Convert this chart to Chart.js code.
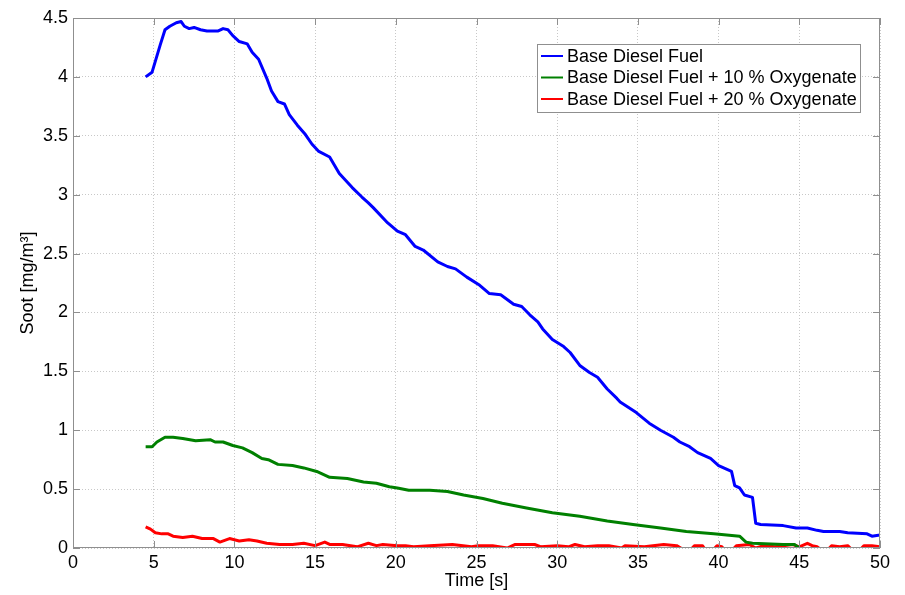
<!DOCTYPE html>
<html>
<head>
<meta charset="utf-8">
<title>Soot</title>
<script src="https://cdn.jsdelivr.net/npm/chart.js@4/dist/chart.umd.min.js"></script>
<style>
  html, body { margin: 0; padding: 0; background: #fff; }
  #chart { display: block; }
</style>
</head>
<body>
<canvas id="chart" width="905" height="595"></canvas>
<script>
// Soot concentration over time for three fuel blends
const seriesLabels = [
    'Base Diesel Fuel',
    'Base Diesel Fuel + 10 % Oxygenate',
    'Base Diesel Fuel + 20 % Oxygenate'
];
const seriesColors = ['#0000ff', '#008000', '#ff0000'];

const baseTime = [4.5, 4.9, 5.4, 5.7, 6.0, 6.4, 6.7, 6.9, 7.2, 7.5, 7.9, 8.3, 9.0, 9.3, 9.6, 9.9,
    10.3, 10.8, 11.1, 11.5, 12.0, 12.3, 12.7, 13.1, 13.4, 13.9, 14.4, 14.8, 15.2, 15.9, 16.5,
    17.3, 17.9, 18.3, 18.6, 19.5, 20.1, 20.6, 21.2, 21.7, 22.6, 23.2, 23.7, 24.4, 25.2, 25.8,
    26.5, 27.3, 27.8, 28.3, 28.8, 29.1, 29.7, 30.4, 30.8, 31.4, 32.0, 32.5, 33.1, 33.7, 33.9,
    34.9, 35.7, 36.4, 37.2, 37.6, 38.2, 38.7, 39.5, 40.0, 40.8, 41.0, 41.3, 41.6, 42.1, 42.3,
    42.6, 44.0, 44.8, 45.5, 46.1, 46.5, 47.5, 48.0, 49.2, 49.5, 50.0];
const baseSoot = [4.00, 4.04, 4.27, 4.40, 4.43, 4.46, 4.47, 4.43, 4.41, 4.42, 4.40, 4.39, 4.39, 4.41, 4.40, 4.35,
    4.30, 4.28, 4.21, 4.15, 3.99, 3.88, 3.79, 3.77, 3.68, 3.59, 3.51, 3.43, 3.37, 3.32, 3.18,
    3.06, 2.98, 2.93, 2.89, 2.76, 2.69, 2.66, 2.56, 2.53, 2.43, 2.39, 2.37, 2.30, 2.23, 2.16,
    2.15, 2.07, 2.05, 1.98, 1.92, 1.86, 1.77, 1.71, 1.66, 1.55, 1.49, 1.45, 1.35, 1.27, 1.24,
    1.15, 1.06, 1.00, 0.94, 0.90, 0.86, 0.81, 0.76, 0.70, 0.65, 0.53, 0.51, 0.45, 0.43, 0.21,
    0.20, 0.19, 0.17, 0.17, 0.15, 0.14, 0.14, 0.13, 0.12, 0.10, 0.11];

const oxy10Time = [4.5, 4.9, 5.2, 5.7, 6.2, 6.8, 7.6, 8.5, 8.8, 9.3, 9.9, 10.5, 11.1, 11.7, 12.1, 12.7,
    13.6, 14.3, 15.1, 15.9, 17.0, 18.0, 18.8, 19.6, 20.1, 20.8, 21.5, 22.1, 23.2, 24.2, 25.4,
    26.6, 28.1, 29.7, 31.4, 33.1, 34.7, 36.4, 38.0, 39.7, 41.3, 41.7, 42.1, 44.0, 44.7, 45.0];
const oxy10Soot = [0.86, 0.86, 0.90, 0.94, 0.94, 0.93, 0.91, 0.92, 0.90, 0.90, 0.87, 0.85, 0.81, 0.76, 0.75, 0.71,
    0.70, 0.68, 0.65, 0.60, 0.59, 0.56, 0.55, 0.52, 0.51, 0.49, 0.49, 0.49, 0.48, 0.45, 0.42,
    0.38, 0.34, 0.30, 0.27, 0.23, 0.20, 0.17, 0.14, 0.12, 0.10, 0.05, 0.04, 0.03, 0.03, 0.00];

const oxy20Time = [4.5, 4.8, 5.1, 5.5, 5.9, 6.2, 6.8, 7.4, 8.0, 8.7, 9.1, 9.7, 10.3, 10.9, 11.4, 12.0,
    12.8, 13.6, 14.3, 15.0, 15.6, 15.9, 16.7, 17.2, 17.6, 18.3, 18.8, 19.2, 20.1, 20.6, 21.1,
    22.1, 23.5, 24.7, 25.1, 26.0, 26.9, 27.4, 28.6, 29.0, 30.0, 30.7, 31.1, 31.7, 32.5, 33.2,
    34.0, 34.2, 35.4, 36.6, 37.4, 37.9, 38.3, 38.5, 39.0, 39.2, 39.7, 39.9, 40.2, 40.4, 40.9,
    41.1, 41.9, 42.3, 42.8, 43.5, 44.0, 44.6, 45.0, 45.5, 45.8, 46.1, 46.4, 46.8, 47.0, 47.5,
    48.0, 48.3, 48.8, 49.0, 49.5, 50.0];
const oxy20Soot = [0.18, 0.16, 0.13, 0.12, 0.12, 0.10, 0.09, 0.10, 0.08, 0.08, 0.05, 0.08, 0.06, 0.07, 0.06, 0.04,
    0.03, 0.03, 0.04, 0.02, 0.05, 0.03, 0.03, 0.02, 0.01, 0.04, 0.02, 0.03, 0.02, 0.02, 0.01,
    0.02, 0.03, 0.01, 0.02, 0.02, 0.00, 0.03, 0.03, 0.01, 0.02, 0.01, 0.03, 0.01, 0.02, 0.02,
    0.00, 0.02, 0.01, 0.03, 0.02, -0.02, -0.01, 0.02, 0.02, -0.02, -0.01, 0.02, 0.01, -0.02, -0.01,
    0.02, 0.03, 0.00, 0.02, 0.01, 0.02, 0.03, 0.01, 0.04, 0.02, 0.01, -0.02, -0.01, 0.02, 0.01,
    0.02, -0.02, -0.01, 0.02, 0.02, 0.01];

const xTicks = [0, 5, 10, 15, 20, 25, 30, 35, 40, 45, 50];
const yTicks = [0, 0.5, 1, 1.5, 2, 2.5, 3, 3.5, 4, 4.5];

const FONT = 'Liberation Sans, Arial, Helvetica, sans-serif';
const FRAME_COLOR = '#8f8f8f';

function toPoints(times, values) {
    return times.map((t, i) => ({ x: t, y: values[i] }));
}

// box around the axes with inward ticks on all four sides
const framePlugin = {
    id: 'frame',
    afterDatasetsDraw(chart) {
        const { ctx, chartArea: a, scales: { x, y } } = chart;
        const len = 7;
        ctx.save();
        ctx.strokeStyle = FRAME_COLOR;
        ctx.lineWidth = 1;
        ctx.strokeRect(a.left + 0.5, a.top + 0.5, a.right - a.left - 1, a.bottom - a.top - 1);
        ctx.beginPath();
        xTicks.forEach(v => {
            const px = Math.round(x.getPixelForValue(v)) + 0.5;
            ctx.moveTo(px, a.bottom);
            ctx.lineTo(px, a.bottom - len);
            ctx.moveTo(px, a.top);
            ctx.lineTo(px, a.top + len);
        });
        yTicks.forEach(v => {
            const py = Math.round(y.getPixelForValue(v)) + 0.5;
            ctx.moveTo(a.left, py);
            ctx.lineTo(a.left + len, py);
            ctx.moveTo(a.right, py);
            ctx.lineTo(a.right - len, py);
        });
        ctx.stroke();
        ctx.restore();
    }
};

// legend box in the upper right of the axes
const boxLegendPlugin = {
    id: 'boxLegend',
    afterDraw(chart) {
        const { ctx, chartArea: a } = chart;
        const left = a.right - 343;
        const top = a.top + 26;
        const width = 323;
        const rowH = 21.5;
        const height = 68;
        ctx.save();
        ctx.fillStyle = '#ffffff';
        ctx.fillRect(left, top, width, height);
        ctx.strokeStyle = FRAME_COLOR;
        ctx.lineWidth = 1;
        ctx.strokeRect(left + 0.5, top + 0.5, width, height);
        ctx.font = '18px ' + FONT;
        ctx.textBaseline = 'middle';
        ctx.textAlign = 'left';
        chart.data.datasets.forEach((ds, i) => {
            const cy = top + 12 + i * rowH;
            ctx.strokeStyle = ds.borderColor;
            ctx.lineWidth = 2;
            ctx.beginPath();
            ctx.moveTo(left + 4, cy);
            ctx.lineTo(left + 26, cy);
            ctx.stroke();
            ctx.fillStyle = '#000';
            ctx.fillText(ds.label, left + 30, cy + 1);
        });
        ctx.restore();
    }
};

const datasets = [
    toPoints(baseTime, baseSoot),
    toPoints(oxy10Time, oxy10Soot),
    toPoints(oxy20Time, oxy20Soot)
].map((pts, i) => ({
    label: seriesLabels[i],
    data: pts,
    borderColor: seriesColors[i],
    backgroundColor: seriesColors[i],
    borderWidth: 3,
    pointRadius: 0,
    tension: 0,
    borderJoinStyle: 'round',
    clip: 0
}));

new Chart(document.getElementById('chart'), {
    type: 'line',
    data: { datasets: datasets },
    options: {
        responsive: false,
        animation: false,
        events: [],
        layout: { padding: { left: 0, top: 18, right: 25, bottom: 0 } },
        plugins: {
            legend: { display: false },
            tooltip: { enabled: false }
        },
        scales: {
            x: {
                type: 'linear',
                min: 0,
                max: 50,
                afterFit: scale => { scale.height = 47; },
                afterBuildTicks: scale => { scale.ticks = xTicks.map(v => ({ value: v })); },
                grid: { color: '#c8c8c8', drawTicks: false, lineWidth: 1 },
                border: { display: false, dash: [1, 2] },
                ticks: {
                    color: '#000',
                    padding: 4,
                    maxRotation: 0,
                    font: { family: FONT, size: 18 },
                    callback: v => String(v)
                },
                title: {
                    display: true,
                    text: 'Time [s]',
                    color: '#000',
                    font: { family: FONT, size: 18 },
                    padding: { top: 0, bottom: 3 }
                }
            },
            y: {
                type: 'linear',
                min: 0,
                max: 4.5,
                afterFit: scale => { scale.width = 73; },
                afterBuildTicks: scale => { scale.ticks = yTicks.map(v => ({ value: v })); },
                grid: { color: '#c8c8c8', drawTicks: false, lineWidth: 1 },
                border: { display: false, dash: [1, 2] },
                ticks: {
                    color: '#000',
                    padding: 5,
                    font: { family: FONT, size: 18 },
                    callback: v => String(v)
                },
                title: {
                    display: true,
                    text: 'Soot [mg/m³]',
                    color: '#000',
                    font: { family: FONT, size: 18 },
                    padding: { top: 17, bottom: 0 }
                }
            }
        }
    },
    plugins: [framePlugin, boxLegendPlugin]
});
</script>
</body>
</html>
